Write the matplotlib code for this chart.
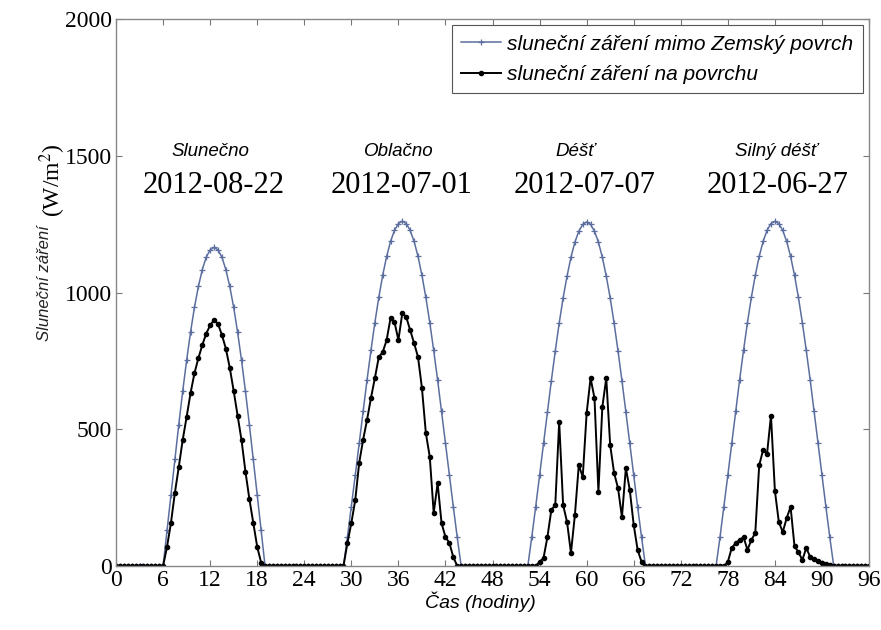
import numpy as np
import matplotlib
matplotlib.use("Agg")
from matplotlib import pyplot as plt

# half-hourly time axis over the four days
hours = np.arange(0, 96.5, 0.5)

# radiation outside the Earth's surface, W/m2, half-hourly from the start hour
extra_start = [6.0, 29.0, 52.5, 76.5]
extra_day1 = [0, 130, 260, 390, 517, 639, 752, 855, 946, 1022, 1084, 1129, 1156, 1165,
              1156, 1129, 1084, 1022, 946, 855, 752, 639, 517, 390, 260, 130, 0]
extra_day2 = [0, 105, 217, 332, 449, 566, 680, 788, 890, 982, 1063, 1132, 1187, 1227, 1252, 1261,
              1252, 1227, 1187, 1132, 1063, 982, 890, 788, 680, 566, 449, 332, 217, 105, 0]
extra_day3 = [0, 105, 216, 331, 448, 564, 678, 786, 888, 980, 1060, 1129, 1184, 1224, 1249, 1258,
              1249, 1224, 1184, 1129, 1060, 980, 888, 786, 678, 564, 448, 331, 216, 105, 0]
extra_day4 = [0, 105, 217, 332, 449, 566, 680, 788, 890, 982, 1063, 1132, 1187, 1227, 1252, 1260,
              1252, 1227, 1187, 1132, 1063, 982, 890, 788, 680, 566, 449, 332, 217, 105, 0]

# measured radiation on the surface, W/m2
surf_start = [6.0, 29.0, 53.5, 77.5]
surf_day1 = [0, 70, 157, 267, 362, 461, 545, 632, 705, 760, 808, 850, 880, 900,
             885, 845, 795, 725, 640, 550, 460, 345, 245, 157, 70, 12, 0]
surf_day2 = [0, 84, 157, 241, 377, 461, 534, 614, 687, 764, 782, 826, 907, 892, 826,
             925, 910, 863, 815, 764, 651, 486, 399, 194, 303, 157, 106, 84, 33, 0]
surf_day3 = [0, 15, 29, 106, 205, 223, 527, 223, 161, 48, 186, 369, 325, 559, 687, 614,
             271, 581, 687, 442, 340, 285, 179, 358, 278, 150, 59, 15, 0]
surf_day4 = [0, 15, 66, 84, 95, 106, 59, 95, 121, 369, 424, 410, 550, 275, 161, 124,
             175, 216, 72, 51, 22, 66, 33, 25, 18, 12, 6, 2, 0]

day_names = ['Slunečno', 'Oblačno', 'Déšť', 'Silný déšť']
day_dates = ['2012-08-22', '2012-07-01', '2012-07-07', '2012-06-27']
name_x = [12.0, 36.0, 58.5, 84.2]
date_x = [12.5, 36.4, 59.7, 84.4]


def fill(starts, days):
    out = np.zeros(len(hours))
    for st, vals in zip(starts, days):
        i0 = int(round(st / 0.5))
        out[i0:i0 + len(vals)] = vals
    return out


extra = fill(extra_start, [extra_day1, extra_day2, extra_day3, extra_day4])
surface = fill(surf_start, [surf_day1, surf_day2, surf_day3, surf_day4])

serif = 'Liberation Serif'
sans = 'Liberation Sans'

fig = plt.figure(figsize=(8.81, 6.30), dpi=100)
ax = fig.add_axes([0.1317, 0.1016, 0.8547, 0.8682])

ax.plot(hours, extra, color='#5b6e9e', lw=1.1, marker='+', ms=5, mew=0.9,
        label='sluneční záření mimo Zemský povrch')
ax.plot(hours, surface, color='black', lw=1.4, marker='o', ms=3,
        label='sluneční záření na povrchu')

ax.set_xlim(0, 96)
ax.set_ylim(0, 2000)
ax.set_xticks(np.arange(0, 97, 6))
ax.set_yticks(np.arange(0, 2001, 500))
ax.tick_params(direction='in', length=4, top=True, right=True, color='#777777',
               labelsize=17, pad=3)
for lab in ax.get_xticklabels() + ax.get_yticklabels():
    lab.set_family(serif)
for sp in ax.spines.values():
    sp.set_color('#888888')
    sp.set_linewidth(1.0)

for nx, dx, nm, dt in zip(name_x, date_x, day_names, day_dates):
    ax.text(nx, 1515, nm, ha='center', va='center', family=sans, style='italic', fontsize=13.5)
    ax.text(dx, 1390, dt, ha='center', va='center', family=serif, fontsize=22)

ax.text(46.5, -130, 'Čas (hodiny)', ha='center', va='center', family=sans,
        style='italic', fontsize=14)
fig.text(0.051, 0.551, 'Sluneční záření', rotation=90, ha='center', va='center',
         family=sans, style='italic', fontsize=12, color='#222222')
fig.text(0.060, 0.714, '(W/m$^{2}$)', rotation=90, ha='center', va='center',
         family=serif, fontsize=17, math_fontfamily='stix')

leg = ax.legend(loc='upper right', fancybox=False, framealpha=1, edgecolor='#555555',
                prop={'family': sans, 'style': 'italic', 'size': 15},
                handlelength=1.9, handletextpad=0.3, borderpad=0.45, labelspacing=0.55,
                borderaxespad=0.3)
leg.get_frame().set_linewidth(0.8)

fig.savefig('out.png', dpi=100)
